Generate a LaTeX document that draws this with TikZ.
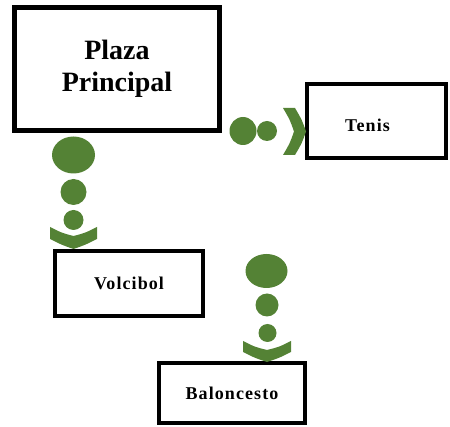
\documentclass[tikz,border=0pt]{standalone}
\usepackage{fontspec}
\setmainfont{Liberation Serif}
\newfontfamily\spacedserif[LetterSpace=6]{Liberation Serif}
\definecolor{chaingreen}{RGB}{84,130,53}
\begin{document}
\begin{tikzpicture}[x=1pt,y=-1pt,
  box/.style={draw=black,line width=4pt,fill=white,inner sep=0pt},
  bigbox/.style={box,line width=5pt},
  lbl/.style={font=\spacedserif\fontsize{18}{20}\selectfont\bfseries,inner sep=0pt},
  dot/.style={fill=chaingreen}]
\useasboundingbox (0,0) rectangle (450,427);
% boxes
\node[bigbox,minimum width=205pt,minimum height=123pt,align=center,
  font=\fontsize{28}{32}\selectfont\bfseries] (plaza) at (117,69) {Plaza\\Principal};
\node[box,minimum width=139pt,minimum height=74pt] (tenis) at (376.5,121) {};
\node[lbl] (tenislbl) at (367.5,125) {Tenis};
\node[box,minimum width=148pt,minimum height=65pt,lbl] (volci) at (129,283.5) {Volcibol};
\node[box,minimum width=146pt,minimum height=60pt,lbl] (balon) at (232,393) {Baloncesto};
% chain plaza -> volcibol
\fill[dot] (73.5,155) ellipse [x radius=21.5pt,y radius=18.5pt];
\fill[dot] (73.5,192) circle [radius=13pt];
\fill[dot] (73.5,220) circle [radius=10pt];
\fill[dot] (50,227) .. controls (62,233) .. (73.5,236) .. controls (85,233) .. (97,227)
  -- (97,239) .. controls (85,245) .. (73.5,249) .. controls (62,245) .. (50,239) -- cycle;
% chain -> tenis
\fill[dot] (243,131) ellipse [x radius=13.5pt,y radius=14pt];
\fill[dot] (267,131) circle [radius=10pt];
\fill[dot] (283,108) -- (295,108) .. controls (302,120) .. (306,131.5) .. controls (302,143) .. (295,155)
  -- (283,155) .. controls (290,143) .. (294,131.5) .. controls (290,120) .. (283,108) -- cycle;
% chain -> baloncesto
\fill[dot] (266.5,271) ellipse [x radius=21pt,y radius=17pt];
\fill[dot] (267,305) circle [radius=11.5pt];
\fill[dot] (267.5,333) circle [radius=9pt];
\fill[dot] (243,341) .. controls (255,347) .. (267,350) .. controls (279,347) .. (291,341)
  -- (291,352) .. controls (279,358) .. (267,362) .. controls (255,358) .. (243,352) -- cycle;
\end{tikzpicture}
\end{document}
